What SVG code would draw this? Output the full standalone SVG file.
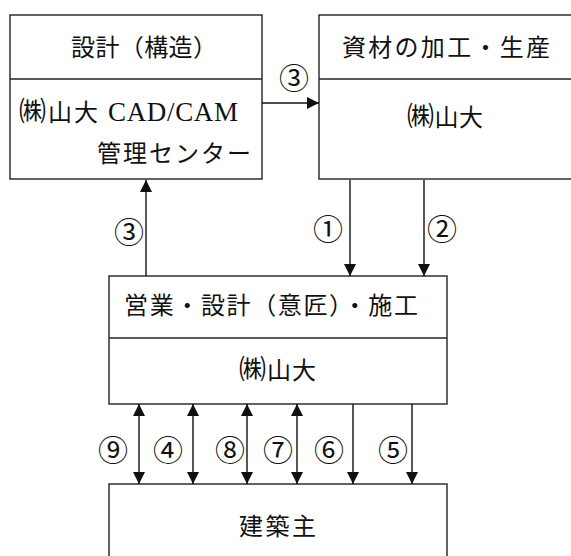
<svg xmlns="http://www.w3.org/2000/svg" width="571" height="556" viewBox="0 0 571 556">
<defs>
<style>
.box{fill:#fff;stroke:#222;stroke-width:1.4}
.div{stroke:#222;stroke-width:1.4}
.t{font-family:"Noto Sans CJK JP","Noto Sans CJK SC",sans-serif;font-size:24px;fill:#111}
.k{font-size:27px}
.s{font-family:"Liberation Serif",serif;font-size:27px;fill:#111}
.n{font-family:"Noto Sans CJK JP","Noto Sans CJK SC",sans-serif;font-size:30px;fill:#111;text-anchor:middle}
.c{stroke:#111;stroke-width:1.4;fill:none}
</style>
<marker id="ah" viewBox="0 0 12 12" refX="12" refY="6" markerWidth="12" markerHeight="12" markerUnits="userSpaceOnUse" orient="auto-start-reverse">
<path d="M0,0 L12,6 L0,12 Z" fill="#111"/>
</marker>
</defs>
<rect width="571" height="556" fill="#fff"/>
<g id="node-design">
<rect class="box" x="10" y="15" width="252" height="164"/>
<line class="div" x1="10" y1="79" x2="262" y2="79"/>
<text class="t" x="71" y="56" textLength="146">設計（構造）</text>
<text class="t" x="19" y="121" textLength="79"><tspan class="k">㈱</tspan>山大</text>
<text class="s" x="108" y="121" textLength="130">CAD/CAM</text>
<text class="t" x="97" y="162" textLength="154">管理センター</text>
</g>
<g id="node-production">
<rect class="box" x="319" y="15" width="270" height="164"/>
<line class="div" x1="319" y1="79" x2="571" y2="79"/>
<text class="t" x="342" y="56" textLength="208">資材の加工・生産</text>
<text class="t" x="407" y="126" textLength="76"><tspan class="k">㈱</tspan>山大</text>
</g>
<g id="node-sales">
<rect class="box" x="109" y="276" width="338" height="128"/>
<line class="div" x1="109" y1="338" x2="447" y2="338"/>
<text class="t" x="124" y="314" textLength="294">営業・設計（意匠）・施工</text>
<text class="t" x="239" y="379" textLength="77"><tspan class="k">㈱</tspan>山大</text>
</g>
<g id="node-client">
<rect class="box" x="109" y="484" width="338" height="90"/>
<text class="t" x="239" y="535" textLength="77">建築主</text>
</g>
<g id="connectors">
<line class="c" x1="262" y1="103" x2="319" y2="103" marker-end="url(#ah)"/>
<line class="c" x1="146" y1="276" x2="146" y2="180" marker-end="url(#ah)"/>
<line class="c" x1="350" y1="180" x2="350" y2="276" marker-end="url(#ah)"/>
<line class="c" x1="424" y1="180" x2="424" y2="276" marker-end="url(#ah)"/>
<line class="c" x1="139" y1="404" x2="139" y2="484" marker-start="url(#ah)" marker-end="url(#ah)"/>
<line class="c" x1="193" y1="404" x2="193" y2="484" marker-start="url(#ah)" marker-end="url(#ah)"/>
<line class="c" x1="247" y1="404" x2="247" y2="484" marker-start="url(#ah)" marker-end="url(#ah)"/>
<line class="c" x1="297" y1="404" x2="297" y2="484" marker-start="url(#ah)" marker-end="url(#ah)"/>
<line class="c" x1="353" y1="404" x2="353" y2="484" marker-end="url(#ah)"/>
<line class="c" x1="412" y1="404" x2="412" y2="484" marker-end="url(#ah)"/>
<text class="n" x="294" y="89">③</text>
<text class="n" x="129" y="243">③</text>
<text class="n" x="328" y="240">①</text>
<text class="n" x="442" y="240">②</text>
<text class="n" x="113" y="461">⑨</text>
<text class="n" x="168" y="461">④</text>
<text class="n" x="230" y="461">⑧</text>
<text class="n" x="278" y="461">⑦</text>
<text class="n" x="329" y="461">⑥</text>
<text class="n" x="393" y="461">⑤</text>
</g>
</svg>
